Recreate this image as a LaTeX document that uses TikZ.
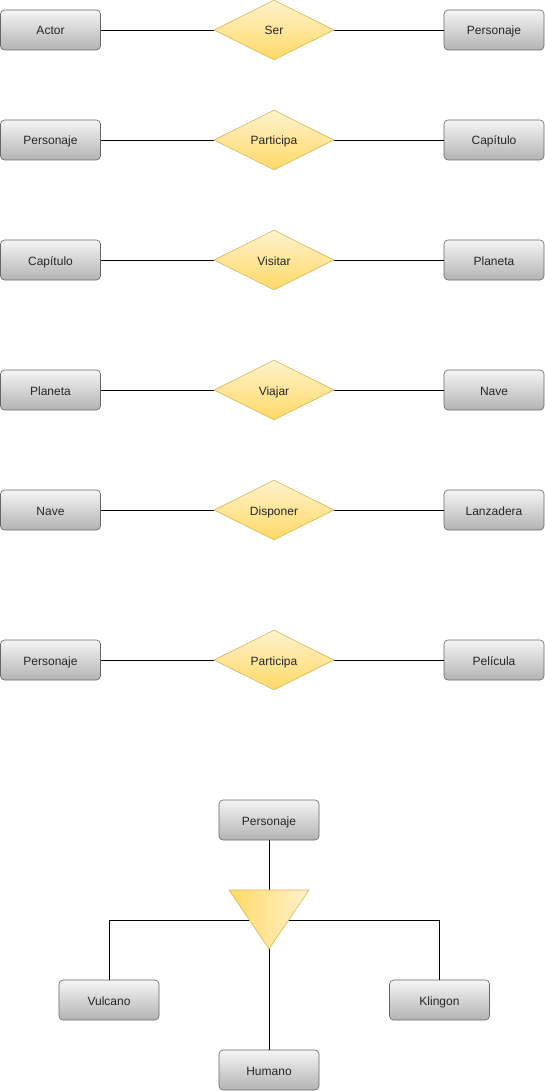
\documentclass[tikz,border=0pt]{standalone}
\usepackage{fontspec}
\setmainfont{Liberation Sans}
\usetikzlibrary{shapes.geometric}
\definecolor{boxtop}{HTML}{F5F5F5}
\definecolor{boxbot}{HTML}{B3B3B3}
\definecolor{boxline}{HTML}{666666}
\definecolor{ylight}{HTML}{FFF2CC}
\definecolor{ydark}{HTML}{FFD966}
\definecolor{yline}{HTML}{D6B656}
\tikzset{
  ent/.style={draw=boxline, rounded corners=4pt, top color=boxtop, bottom color=boxbot,
    minimum width=100pt, minimum height=40pt, inner sep=0pt, line width=0.6pt,
    text height=12.5pt, text depth=2.5pt,
    font=\fontsize{12}{14}\selectfont, text=black!85},
  rel/.style={diamond, draw=yline, top color=ylight, bottom color=ydark,
    minimum width=120pt, minimum height=60pt, inner sep=0pt, aspect=2, line width=0.6pt,
    text height=12.5pt, text depth=2.5pt,
    font=\fontsize{12}{14}\selectfont, text=black!85},
  conn/.style={draw=black, line width=0.8pt},
}
\begin{document}
\begin{tikzpicture}[x=1pt,y=-1pt]
\useasboundingbox (0,0) rectangle (545,1091);
% row 1
\node[ent] (a1) at (50.5,30) {Actor};
\node[rel] (r1) at (274,30) {Ser};
\node[ent] (b1) at (494,30) {Personaje};
% row 2
\node[ent] (a2) at (50.5,140) {Personaje};
\node[rel] (r2) at (274,140) {Participa};
\node[ent] (b2) at (494,140) {Capítulo};
% row 3
\node[ent] (a3) at (50.5,260) {Capítulo};
\node[rel] (r3) at (274,260) {Visitar};
\node[ent] (b3) at (494,260) {Planeta};
% row 4
\node[ent] (a4) at (50.5,390) {Planeta};
\node[rel] (r4) at (274,390) {Viajar};
\node[ent] (b4) at (494,390) {Nave};
% row 5
\node[ent] (a5) at (50.5,510) {Nave};
\node[rel] (r5) at (274,510) {Disponer};
\node[ent] (b5) at (494,510) {Lanzadera};
% row 6
\node[ent] (a6) at (50.5,660) {Personaje};
\node[rel] (r6) at (274,660) {Participa};
\node[ent] (b6) at (494,660) {Película};
\foreach \i in {1,...,6}{
  \draw[conn] (a\i.east) -- (r\i.west);
  \draw[conn] (r\i.east) -- (b\i.west);
}
% hierarchy
\node[ent] (p) at (269,820) {Personaje};
\node[ent] (v) at (109,1000) {Vulcano};
\node[ent] (k) at (439.5,1000) {Klingon};
\node[ent] (h) at (269,1070) {Humano};
\coordinate (tl) at (229,890);
\coordinate (tr) at (309,890);
\coordinate (tt) at (269,890);
\coordinate (ta) at (269,949);
\coordinate (jl) at (109,920);
\coordinate (jr) at (439.5,920);
\draw[conn] (p.south) -- (tt);
\draw[conn] (v.north) -- (jl) -- (jr) -- (k.north);
\draw[conn] (ta) -- (h.north);
\path[draw=yline, line width=0.6pt, left color=ydark, right color=ylight] (tl) -- (tr) -- (ta) -- cycle;
\end{tikzpicture}
\end{document}
